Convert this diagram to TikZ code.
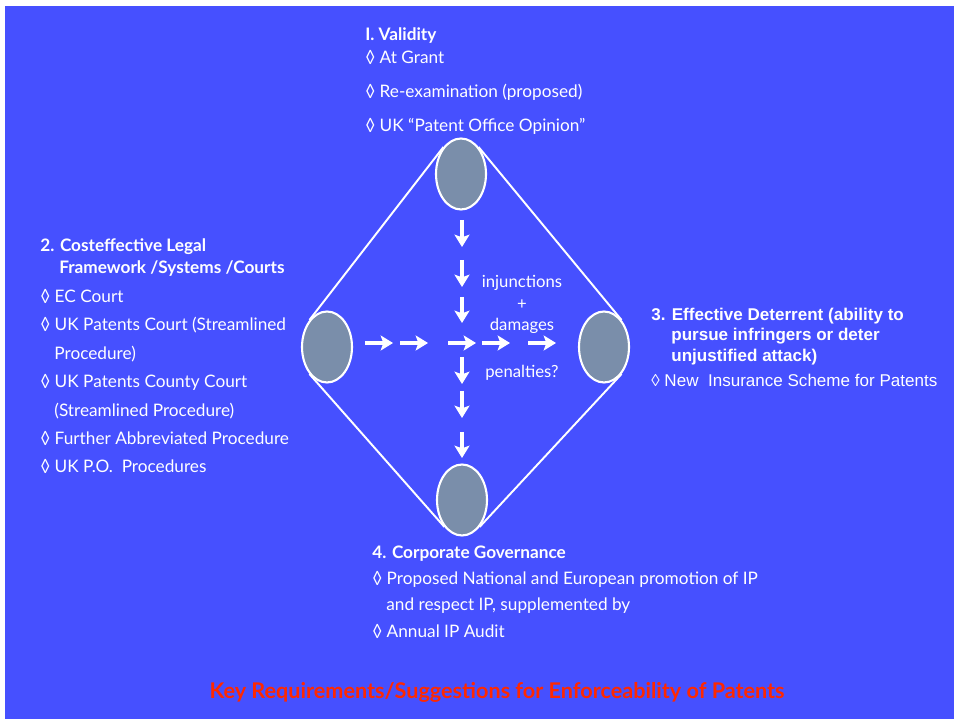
\documentclass[tikz,border=0pt]{standalone}
\usepackage{fontspec}
\setmainfont{Lato}
\newfontfamily\arialfont{Liberation Sans}
\usetikzlibrary{shapes.geometric, arrows.meta, positioning}

\definecolor{slideblue}{RGB}{70,80,255}
\definecolor{hubgray}{RGB}{122,142,170}
\definecolor{titlered}{RGB}{255,40,0}

\begin{document}
\begin{tikzpicture}[
  x=0.02cm,
  y=-0.02cm,
  hub/.style={
    ellipse,
    draw=white,
    line width=1.2pt,
    fill=hubgray,
    minimum width=1cm,
    minimum height=1.42cm,
    inner sep=0pt
  },
  edge/.style={
    white,
    line width=1.1pt
  },
  flow/.style={
    white,
    line width=2pt,
    -{Stealth[length=7pt, width=8.5pt, inset=1.5pt]}
  },
  txt/.style={
    text=white,
    align=left,
    anchor=base west,
    inner sep=0pt
  },
  mid/.style={
    text=white,
    align=center,
    anchor=base,
    inner sep=0pt,
    font=\fontsize{9.5}{12.5}\selectfont
  }
]

% Background
\useasboundingbox (0,0) rectangle (954,719);
\fill[slideblue] (5,6) rectangle (954,719);

% Hubs
\node[hub] (validity) at (461,174) {};
\node[hub] (legal) at (327,347) {};
\node[hub] (deterrent) at (604,347) {};
\node[hub] (governance) at (462,500) {};

% Diamond
\draw[edge] (validity.123) -- (legal.123);
\draw[edge] (validity.57) -- (deterrent.57);
\draw[edge] (legal.-123) -- (governance.-123);
\draw[edge] (deterrent.-57) -- (governance.-57);

% Arrows
\foreach \a/\b in {365/393, 400/428, 448/476, 482/510, 528/556}
  \draw[flow] (\a,343) -- (\b,343);
\foreach \a/\b in {220/247, 260/287, 297/323, 357/384, 391/418, 432/458}
  \draw[flow] (462,\a) -- (462,\b);

% Middle labels (anchored on last line)
\node[mid] (remedies) at (522,331) {injunctions\\+\\damages};
\node[mid] (penalties) at (522,378) {penalties?};

% Text blocks (anchored on last line)
\node[txt, font=\fontsize{9.8}{19.6}\selectfont] (validtext) at (365,132)
  {\textbf{I. Validity}\\[-7pt]
   ◊ At Grant\\
   ◊ Re-examination (proposed)\\
   ◊ UK “Patent Office Opinion”};

\node[txt, font=\fontsize{9.8}{16.2}\selectfont] (legaltext) at (40,473)
  {\textbf{2. Costeffective Legal}\\[-3.7pt]
   \hspace{10.8pt}\textbf{Framework /Systems /Courts}\\
   ◊ EC Court\\
   ◊ UK Patents Court (Streamlined\\
   \hspace{8pt}Procedure)\\
   ◊ UK Patents County Court\\
   \hspace{8pt}(Streamlined Procedure)\\
   ◊ Further Abbreviated Procedure\\
   ◊ UK P.O.\ \ Procedures};

\node[txt, font=\arialfont\fontsize{9.7}{11.6}\selectfont] (detertext) at (651,387)
  {\textbf{3. Effective Deterrent (ability to}\\
   \hspace{11.4pt}\textbf{pursue infringers or deter}\\
   \hspace{11.4pt}\textbf{unjustified attack)}\\[3pt]
   ◊ New\ \ Insurance Scheme for Patents};

\node[txt, font=\fontsize{9.8}{14.8}\selectfont] (govtext) at (372,638)
  {\textbf{4. Corporate Governance}\\
   ◊ Proposed National and European promotion of IP\\
   \hspace{8pt}and respect IP, supplemented by\\[1pt]
   ◊ Annual IP Audit};

% Title
\node[text=titlered, font=\fontsize{12.3}{14}\selectfont\bfseries, anchor=base] (title) at (497,698)
  {Key Requirements/Suggestions for Enforceability of Patents};

\end{tikzpicture}
\end{document}
